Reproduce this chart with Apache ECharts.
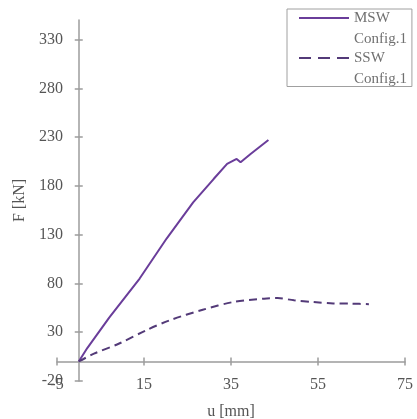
<!DOCTYPE html>
<html>
<head>
<meta charset="utf-8">
<script src="https://cdn.jsdelivr.net/npm/echarts@6/dist/echarts.min.js"></script>
<style>html,body{margin:0;padding:0;background:#fff}#c{width:417px;height:419px}</style>
</head>
<body>
<div id="c"></div>
<script>
var xTicks = [-5, 15, 35, 55, 75];
var yTicks = [-20, 30, 80, 130, 180, 230, 280, 330];
var mswU = [0, 2, 7, 14, 20.2, 26.3, 31, 34.1, 36.3, 37.2, 39.5, 43.6];
var mswF = [0, 14, 45, 85, 126, 163, 187, 202.5, 207.6, 204.2, 212.7, 227];
var sswU = [0, 3.5, 9.3, 15.5, 20.9, 28.5, 35.6, 42.6, 45.7, 49.5, 53.9, 58.5, 62.8, 66.7];
var sswF = [0, 8, 18.4, 32, 42.2, 53, 61, 64.4, 65, 62.7, 61, 59.5, 59.3, 58.7];
var seriesNames = ['MSW\nConfig.1', 'SSW\nConfig.1'];

function pairs(a, b) { return a.map(function (v, i) { return [v, b[i]]; }); }

var axisColor = '#9c9c9c';
var font = 'Liberation Serif';
var chart = echarts.init(document.getElementById('c'), null, {renderer: 'canvas'});
var baseX = {
  type: 'value', min: -5, max: 75, position: 'bottom',
  splitLine: {show: false}
};
var baseY = {
  type: 'value', min: -20, max: 350, position: 'left',
  splitLine: {show: false}
};
chart.setOption({
  animation: false,
  backgroundColor: '#fff',
  grid: {left: 57, right: 12, top: 20, bottom: 38, outerBoundsMode: 'none', containLabel: false},
  legend: {
    left: 287, top: 9,
    orient: 'vertical',
    itemWidth: 50, itemHeight: 14,
    itemGap: -23,
    padding: [-22.5, 5, -3, 11],
    borderColor: '#a0a0a0', borderWidth: 1,
    itemStyle: {opacity: 0},
    formatter: function (n) { return '\n' + n; },
    textStyle: {fontFamily: font, fontSize: 15, color: '#707070', lineHeight: 21},
    data: [
      {name: seriesNames[0]},
      {name: seriesNames[1], lineStyle: {type: [12, 7]}}
    ]
  },
  xAxis: [
    Object.assign({}, baseX, {
      name: 'u [mm]', nameLocation: 'middle', nameGap: 23, nameMoveOverlap: false,
      nameTextStyle: {fontFamily: font, fontSize: 16, color: '#555'},
      axisLine: {onZero: true, onZeroAxisIndex: 0, lineStyle: {color: axisColor, width: 1.5}},
      axisTick: {show: true, inside: false, length: 4, customValues: xTicks, lineStyle: {color: axisColor, width: 1.5}},
      axisLabel: {customValues: xTicks, margin: -4, fontFamily: font, fontSize: 16, color: '#555'}
    }),
    Object.assign({}, baseX, {
      axisLine: {show: false, onZero: true, onZeroAxisIndex: 0},
      axisTick: {show: true, inside: true, length: 4, customValues: xTicks, lineStyle: {color: axisColor, width: 1.5}},
      axisLabel: {show: false}
    })
  ],
  yAxis: [
    Object.assign({}, baseY, {
      name: 'F [kN]', nameLocation: 'middle', nameGap: 29, nameRotate: 90, nameMoveOverlap: false,
      nameTextStyle: {fontFamily: font, fontSize: 16, color: '#555'},
      axisLine: {onZero: true, onZeroAxisIndex: 0, lineStyle: {color: axisColor, width: 1.5}},
      axisTick: {show: true, inside: false, length: 4, customValues: yTicks, lineStyle: {color: axisColor, width: 1.5}},
      axisLabel: {customValues: yTicks, margin: -6, fontFamily: font, fontSize: 16, color: '#555'}
    }),
    Object.assign({}, baseY, {
      axisLine: {show: false, onZero: true, onZeroAxisIndex: 0},
      axisTick: {show: true, inside: true, length: 4, customValues: yTicks, lineStyle: {color: axisColor, width: 1.5}},
      axisLabel: {show: false}
    })
  ],
  series: [
    {
      name: seriesNames[0], type: 'line', xAxisIndex: 0, yAxisIndex: 0,
      data: pairs(mswU, mswF), showSymbol: false, symbol: 'none',
      lineStyle: {color: '#6a3d9a', width: 2}, itemStyle: {color: '#6a3d9a'}
    },
    {
      name: seriesNames[1], type: 'line', xAxisIndex: 0, yAxisIndex: 0,
      data: pairs(sswU, sswF), showSymbol: false, symbol: 'none', smooth: 0.3,
      lineStyle: {color: '#533a78', width: 2, type: [8, 5]}, itemStyle: {color: '#533a78'}
    }
  ]
});
</script>
</body>
</html>
